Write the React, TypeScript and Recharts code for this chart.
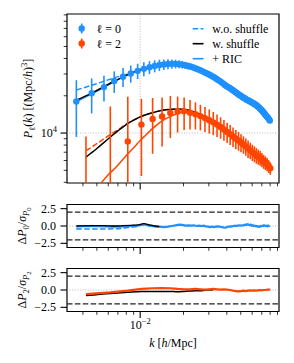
import React from 'react';
import {
  ComposedChart,
  Line,
  Scatter,
  XAxis,
  YAxis,
  ErrorBar,
  ReferenceLine,
  ReferenceArea,
  Legend,
} from 'recharts';

const FONT = '"Liberation Serif", "DejaVu Serif", serif';
const BLUE = '#1E90FF';
const RED = '#FF4500';
const GRID = '#aaaaaa';

// ---------- axes ----------
const X_MIN = 0.0031;
const X_MAX = 0.0922;
const Y_MIN = 3950;
const Y_MAX = 91500;
const R_MIN = -3.1;
const R_MAX = 3.1;
const X_TICKS = [0.004, 0.005, 0.006, 0.007, 0.008, 0.009, 0.01, 0.02, 0.03, 0.04, 0.05, 0.06, 0.07, 0.08, 0.09];
const Y_TICKS = [4000, 5000, 6000, 7000, 8000, 9000, 10000, 20000, 30000, 40000, 50000, 60000, 70000, 80000, 90000];
const R_TICKS = [-2.5, 0, 2.5];

// ---------- monopole (l = 0) measurements ----------
const kMono = [
  0.0036, 0.0046, 0.0056, 0.0066, 0.0076, 0.0086, 0.0096, 0.0106, 0.0116, 0.0126,
  0.0136, 0.0146, 0.0156, 0.0166, 0.0176, 0.0186, 0.0196, 0.0206, 0.0216, 0.0226,
  0.0236, 0.0246, 0.0256, 0.0266, 0.0276, 0.0286, 0.0296, 0.0306, 0.0316, 0.0326,
  0.0336, 0.0346, 0.0356, 0.0366, 0.0376, 0.0386, 0.0396, 0.0406, 0.0416, 0.0426,
  0.0436, 0.0446, 0.0456, 0.0466, 0.0476, 0.0486, 0.0496, 0.0506, 0.0516, 0.0526,
  0.0536, 0.0546, 0.0556, 0.0566, 0.0576, 0.0586, 0.0596, 0.0606, 0.0616, 0.0626,
  0.0636, 0.0646, 0.0656, 0.0666, 0.0676, 0.0686, 0.0696, 0.0706, 0.0716, 0.0726,
  0.0736, 0.0746, 0.0756, 0.0766, 0.0776, 0.0786, 0.0796,
];
const pMono = [
  18000, 21000, 23500, 26300, 28500, 30300, 31800, 33000, 34000, 34800,
  35400, 35800, 36100, 36200, 36200, 36000, 35700, 35300, 34800, 34300,
  33700, 33100, 32500, 31900, 31200, 30600, 30000, 29400, 28800, 28200,
  27600, 27000, 26400, 25800, 25200, 24600, 24000, 23600, 23200, 22800,
  22400, 22000, 21600, 21200, 20800, 20400, 20100, 19800, 19500, 19200,
  19000, 18700, 18500, 18300, 18100, 17900, 17700, 17500, 17300, 17100,
  16900, 16700, 16400, 16200, 15900, 15600, 15400, 15100, 14800, 14500,
  14200, 13900, 13700, 13400, 13200, 12900, 12600,
];
const eMono = [
  8700, 6600, 5500, 5200, 5000, 4800, 4500, 4300, 4100, 3900,
  3700, 3500, 3300, 3100, 2900, 2700, 2500, 2350, 2200, 2050,
  1950, 1850, 1750, 1650, 1550, 1500, 1400, 1350, 1300, 1250,
  1200, 1150, 1100, 1050, 1000, 960, 920, 880, 850, 820,
  790, 760, 730, 700, 680, 660, 640, 620, 600, 580,
  560, 545, 530, 515, 500, 485, 470, 460, 450, 440,
  430, 420, 410, 400, 390, 380, 370, 360, 350, 340,
  330, 320, 310, 300, 295, 290, 285,
];

// ---------- quadrupole (l = 2) measurements ----------
const kQuad = [
  0.0042, 0.0062, 0.0082, 0.0102, 0.0122, 0.0142, 0.0162, 0.0182, 0.0202, 0.0222,
  0.0242, 0.0262, 0.0282, 0.0302, 0.0322, 0.0342, 0.0362, 0.0382, 0.0402, 0.0422,
  0.0442, 0.0462, 0.0482, 0.0502, 0.0522, 0.0542, 0.0562, 0.0582, 0.0602, 0.0622,
  0.0642, 0.0662, 0.0682, 0.0702, 0.0722, 0.0742, 0.0762, 0.0782, 0.0802,
];
const pQuad = [
  1200, 2500, 8560, 11700, 13000, 13600, 14500, 14900, 15000, 14600,
  14200, 13700, 13200, 12700, 12200, 11700, 11200, 10700, 10200, 9800,
  9400, 9000, 8700, 8400, 8100, 7800, 7500, 7250, 7000, 6800,
  6600, 6450, 6300, 6100, 5900, 5750, 5600, 5400, 5200,
];
const eQuad = [
  8200, 13900, 11100, 7200, 6200, 5800, 5400, 4800, 4400, 3900,
  3500, 3200, 3000, 2800, 2600, 2400, 2200, 2050, 1900, 1800,
  1700, 1600, 1500, 1400, 1300, 1250, 1200, 1100, 1050, 1000,
  950, 900, 850, 800, 760, 720, 680, 640, 600,
];

// ---------- models, l = 0 ----------
const kModel0 = [
  0.0036, 0.0046, 0.0056, 0.0066, 0.0076, 0.0086, 0.0096, 0.0106, 0.0126, 0.0146,
  0.0166, 0.0186, 0.0216, 0.0256, 0.0306, 0.0356, 0.0406, 0.0456, 0.0506, 0.0556,
  0.0606, 0.0656, 0.0706, 0.0756, 0.0796,
];
const pShuffle0 = [
  18400, 21000, 23700, 26200, 28400, 30300, 31900, 33100, 34900, 35900,
  36300, 36100, 34900, 32600, 29500, 26500, 23700, 21700, 19900, 18600,
  17600, 16500, 15200, 13800, 12700,
];
const pNoShuffle0 = [
  22300, 24300, 26200, 27900, 29300, 30600, 31900, 33100, 34900, 35900,
  36300, 36100, 34900, 32600, 29500, 26500, 23700, 21700, 19900, 18600,
  17600, 16500, 15200, 13800, 12700,
];
const pRic0 = [
  17900, 20700, 23400, 26000, 28300, 30200, 31800, 33000, 34800, 35800,
  36200, 36000, 34800, 32500, 29400, 26400, 23600, 21600, 19800, 18500,
  17500, 16400, 15100, 13700, 12600,
];

// ---------- models, l = 2 ----------
const kModel2 = [
  0.0042, 0.005, 0.006, 0.007, 0.008, 0.009, 0.01, 0.0115, 0.013, 0.015,
  0.017, 0.019, 0.021, 0.024, 0.028, 0.032, 0.036, 0.04, 0.045, 0.05,
  0.055, 0.06, 0.065, 0.07, 0.075, 0.0802,
];
const pShuffle2 = [
  6400, 7500, 9000, 10400, 11700, 12700, 13500, 14300, 14900, 15400,
  15600, 15600, 15400, 14700, 13600, 12500, 11400, 10400, 9400, 8500,
  7800, 7100, 6600, 6150, 5750, 5250,
];
const pNoShuffle2 = [
  7200, 8200, 9500, 10600, 11800, 12700, 13500, 14300, 14900, 15400,
  15600, 15600, 15400, 14700, 13600, 12500, 11400, 10400, 9400, 8500,
  7800, 7100, 6600, 6150, 5750, 5250,
];
const kRic2 = [
  0.0042, 0.005, 0.0054, 0.006, 0.007, 0.008, 0.009, 0.01, 0.011, 0.012,
  0.013, 0.0145, 0.016, 0.018, 0.02, 0.022, 0.025, 0.03, 0.035, 0.04,
  0.045, 0.05, 0.055, 0.06, 0.065, 0.07, 0.075, 0.0802,
];
const pRic2 = [
  2300, 3500, 4000, 4600, 5500, 6600, 7600, 8700, 9700, 10700,
  11600, 12700, 13500, 14300, 14700, 14700, 14100, 12800, 11500, 10300,
  9300, 8500, 7700, 7050, 6550, 6150, 5750, 5250,
];

// ---------- residuals, l = 0 ----------
const dP0Ric = [
  -0.05, 0.0, -0.05, -0.1, -0.05, 0.0, 0.05, 0.25, 0.05, -0.05,
  -0.1, -0.15, -0.1, 0.0, 0.1, 0.2, 0.15, 0.05, 0.1, 0.05,
  0.1, 0.0, 0.05, 0.0, 0.05, -0.05, -0.1, -0.15, -0.1, -0.15,
  -0.1, -0.05, -0.1, -0.15, -0.2, -0.25, -0.2, -0.1, -0.05, -0.1,
  -0.05, 0.0, 0.05, 0.0, 0.05, 0.1, 0.05, 0.1, 0.05, 0.15,
  0.2, 0.15, 0.25, 0.2, 0.1, 0.2, 0.05, 0.1, 0.0, 0.05,
  -0.05, 0.0, -0.1, -0.05, -0.1, 0.0, -0.05, 0.05, 0.0, 0.1,
  0.05, 0.0, 0.05, -0.05, 0.05, 0.0, 0.05,
];
const kRes0Short = [0.0036, 0.0046, 0.0056, 0.0066, 0.0076, 0.0086, 0.0096, 0.0106, 0.0116, 0.0126, 0.0136];
const dP0NoShuffle = [-0.42, -0.44, -0.44, -0.4, -0.32, -0.18, -0.05, 0.2, 0.05, -0.05, -0.1];
const dP0Shuffle = [0.0, 0.05, 0.05, 0.0, 0.05, 0.1, 0.15, 0.35, 0.15, 0.0, -0.1];

// ---------- residuals, l = 2 ----------
const dP2Ric = [
  -0.6, -0.35, -0.1, 0.15, 0.25, 0.28, 0.25, 0.15, 0.1, 0.1,
  0.15, 0.1, 0.05, 0.1, 0.15, 0.1, 0.05, 0.1, 0.05, 0.0,
  -0.1, -0.15, -0.2, -0.15, -0.1, -0.15, -0.1, -0.05, -0.1, -0.05,
  -0.1, -0.05, 0.0, -0.05, 0.0, 0.0, 0.05, 0.05, 0.05,
];
const kRes2Short = [0.0042, 0.0062, 0.0082, 0.0102, 0.0122, 0.0142, 0.0162, 0.0182, 0.0202, 0.0222, 0.0242, 0.0262, 0.0282, 0.0302, 0.0322];
const dP2Shuffle = [-0.8, -0.5, -0.33, -0.22, -0.2, -0.2, -0.2, -0.25, -0.2, -0.15, -0.1, -0.1, -0.05, 0.0, 0.05];

// ---------- table builders ----------
const pts = (ks: number[], ps: number[]) => ks.map((k, i) => ({ k, p: ps[i] }));
const errPts = (ks: number[], ps: number[], es: number[]) =>
  ks.map((k, i) => {
    const p = ps[i];
    const e = es[i];
    const low = Math.min(e, p - Y_MIN);
    return { k, p, err: [low, e] };
  });

const monoTable = errPts(kMono, pMono, eMono);
const quadTable = errPts(kQuad, pQuad, eQuad);

// ---------- tick renderers ----------
function XTick(props: any) {
  const { x, y, payload, showLabel } = props;
  const v = payload.value;
  const major = Math.abs(v - 0.01) < 1e-9;
  return (
    <g>
      <line x1={x} x2={x} y1={y} y2={y + (major ? 6.5 : 3.3)} stroke="#000" strokeWidth={major ? 1.1 : 0.8} />
      {showLabel && major ? (
        <text x={x} y={y + 17.5} textAnchor="middle" fontFamily={FONT} fontSize={12} fill="#000">
          10
          <tspan dy={-5} fontSize={8.5}>
            −2
          </tspan>
        </text>
      ) : null}
    </g>
  );
}

function YLogTick(props: any) {
  const { x, y, payload } = props;
  const v = payload.value;
  const major = v === 10000;
  return (
    <g>
      <line x1={x - (major ? 6.5 : 3.3)} x2={x} y1={y} y2={y} stroke="#000" strokeWidth={major ? 1.1 : 0.8} />
      {major ? (
        <text x={x - 10} y={y + 4} textAnchor="end" fontFamily={FONT} fontSize={12} fill="#000">
          10
          <tspan dy={-5} fontSize={8.5}>
            4
          </tspan>
        </text>
      ) : null}
    </g>
  );
}

function YResTick(props: any) {
  const { x, y, payload } = props;
  const v: number = payload.value;
  const txt = (v < 0 ? '−' : '') + Math.abs(v).toFixed(1);
  return (
    <g>
      <line x1={x - 6.5} x2={x} y1={y} y2={y} stroke="#000" strokeWidth={1.1} />
      <text x={x - 11} y={y + 4} textAnchor="end" fontFamily={FONT} fontSize={12} fill="#000">
        {txt}
      </text>
    </g>
  );
}

// ---------- axis titles ----------
function MainYLabel(props: any) {
  const vb = props.viewBox || {};
  const cy = vb.y + vb.height / 2;
  const cx = 28;
  return (
    <text
      transform={`translate(${cx},${cy}) rotate(-90)`}
      textAnchor="middle"
      y={4}
      fontFamily={FONT}
      fontSize={12}
      fill="#000"
    >
      <tspan fontStyle="italic">P</tspan>
      <tspan dy={3} fontSize={8.5}>ℓ</tspan>
      <tspan dy={-3}>(</tspan>
      <tspan fontStyle="italic">k</tspan>
      <tspan>) [(Mpc/</tspan>
      <tspan fontStyle="italic">h</tspan>
      <tspan>)</tspan>
      <tspan dy={-5} fontSize={8.5}>3</tspan>
      <tspan dy={5}>]</tspan>
    </text>
  );
}

function ResYLabel(props: any) {
  const vb = props.viewBox || {};
  const cy = vb.y + vb.height / 2;
  const cx = 22;
  const d = props.ell;
  return (
    <text
      transform={`translate(${cx},${cy}) rotate(-90)`}
      textAnchor="middle"
      y={4}
      fontFamily={FONT}
      fontSize={12}
      fill="#000"
    >
      <tspan>Δ</tspan>
      <tspan fontStyle="italic">P</tspan>
      <tspan dy={3} fontSize={8.5}>{d}</tspan>
      <tspan dy={-3}>/</tspan>
      <tspan fontStyle="italic">σ</tspan>
      <tspan dy={3} fontSize={8.5} fontStyle="italic">P</tspan>
      <tspan dy={2} fontSize={6.5}>{d}</tspan>
    </text>
  );
}

function XTitle(props: any) {
  const vb = props.viewBox || {};
  const cx = vb.x + vb.width / 2;
  const y = vb.y + 35.5;
  return (
    <text x={cx} y={y} textAnchor="middle" fontFamily={FONT} fontSize={12} fill="#000">
      <tspan fontStyle="italic">k</tspan>
      <tspan> [</tspan>
      <tspan fontStyle="italic">h</tspan>
      <tspan>/Mpc]</tspan>
    </text>
  );
}

// ---------- legend ----------
function LegendBox() {
  const leftItems = [
    { c: BLUE, t: '0' },
    { c: RED, t: '2' },
  ];
  const rightItems = [
    { c: BLUE, dash: '5.5 2.4', t: 'w.o. shuffle' },
    { c: '#000', dash: undefined, t: 'w. shuffle' },
    { c: BLUE, dash: undefined, t: '+ RIC' },
  ];
  return (
    <svg width={294} height={190} style={{ position: 'absolute', left: 0, top: 0, overflow: 'visible' }}>
      {leftItems.map((it, i) => {
        const y = 28.5 + i * 15;
        return (
          <g key={'l' + i}>
            <line x1={81.7} x2={81.7} y1={y - 5} y2={y + 5} stroke={it.c} strokeWidth={1.6} />
            <circle cx={81.7} cy={y} r={3.2} fill={it.c} />
            <text x={96.5} y={y + 4} fontFamily={FONT} fontSize={12} fill="#000">
              ℓ = {it.t}
            </text>
          </g>
        );
      })}
      {rightItems.map((it, i) => {
        const y = 28.7 + i * 15;
        return (
          <g key={'r' + i}>
            <line x1={192.7} x2={203.5} y1={y} y2={y} stroke={it.c} strokeWidth={1.6} strokeDasharray={it.dash} />
            <text x={212.3} y={y + 4} fontFamily={FONT} fontSize={12} fill="#000">
              {it.t}
            </text>
          </g>
        );
      })}
    </svg>
  );
}

const dotShape = (color: string) => (props: any) => {
  const { cx, cy } = props;
  if (cx == null || cy == null || !isFinite(cx) || !isFinite(cy)) return <g />;
  return <circle cx={cx} cy={cy} r={3.2} fill={color} />;
};

function MainChart() {
  return (
    <ComposedChart width={294} height={190} margin={{ top: 14, right: 15, bottom: 0, left: 0 }}>
      <XAxis
        dataKey="k"
        type="number"
        scale="log"
        domain={[X_MIN, X_MAX]}
        allowDataOverflow
        ticks={X_TICKS}
        interval={0}
        height={7}
        tickSize={0}
        tickMargin={0}
        axisLine={false}
        tickLine={false}
        tick={(p: any) => <XTick {...p} showLabel={false} />}
      />
      <YAxis
        dataKey="p"
        type="number"
        scale="log"
        domain={[Y_MIN, Y_MAX]}
        allowDataOverflow
        ticks={Y_TICKS}
        interval={0}
        width={67}
        tickSize={0}
        tickMargin={0}
        axisLine={false}
        tickLine={false}
        tick={(p: any) => <YLogTick {...p} />}
        label={<MainYLabel />}
      />
      <ReferenceLine x={0.01} stroke={GRID} strokeDasharray="1 1.6" strokeWidth={0.8} />
      <ReferenceLine y={10000} stroke={GRID} strokeDasharray="1 1.6" strokeWidth={0.8} />

      <Line data={pts(kModel0, pRic0)} dataKey="p" type="monotone" stroke={BLUE} strokeWidth={1.5} dot={false} isAnimationActive={false} />
      <Line data={pts(kModel0, pNoShuffle0)} dataKey="p" type="monotone" stroke={BLUE} strokeWidth={1.5} strokeDasharray="5.5 2.4" dot={false} isAnimationActive={false} />
      <Line data={pts(kModel0, pShuffle0)} dataKey="p" type="monotone" stroke="#000" strokeWidth={1.5} dot={false} isAnimationActive={false} />

      <Line data={pts(kRic2, pRic2)} dataKey="p" type="monotone" stroke={RED} strokeWidth={1.5} dot={false} isAnimationActive={false} />
      <Line data={pts(kModel2, pNoShuffle2)} dataKey="p" type="monotone" stroke={RED} strokeWidth={1.5} strokeDasharray="5.5 2.4" dot={false} isAnimationActive={false} />
      <Line data={pts(kModel2, pShuffle2)} dataKey="p" type="monotone" stroke="#000" strokeWidth={1.5} dot={false} isAnimationActive={false} />

      <Scatter data={monoTable} dataKey="p" shape={dotShape(BLUE)} isAnimationActive={false}>
        <ErrorBar dataKey="err" direction="y" width={0} stroke={BLUE} strokeWidth={1.6} />
      </Scatter>
      <Scatter data={quadTable} dataKey="p" shape={dotShape(RED)} isAnimationActive={false}>
        <ErrorBar dataKey="err" direction="y" width={0} stroke={RED} strokeWidth={1.6} />
      </Scatter>

      <ReferenceArea x1={X_MIN} x2={X_MAX} y1={Y_MIN} y2={Y_MAX} fill="none" fillOpacity={0} stroke="#000" strokeWidth={1.2} ifOverflow="visible" />
      <Legend
        layout="vertical"
        align="center"
        verticalAlign="middle"
        content={() => <LegendBox />}
        wrapperStyle={{ left: 0, top: 0, width: 294, height: 190, pointerEvents: 'none' }}
      />
    </ComposedChart>
  );
}

function ResidualChart(props: {
  height: number;
  top: number;
  axisHeight: number;
  ell: string;
  showLabel: boolean;
  children?: React.ReactNode;
}) {
  const { height, top, axisHeight, ell, showLabel, children } = props;
  return (
    <ComposedChart width={294} height={height} margin={{ top, right: 15, bottom: 0, left: 0 }}>
      <XAxis
        dataKey="k"
        type="number"
        scale="log"
        domain={[X_MIN, X_MAX]}
        allowDataOverflow
        ticks={X_TICKS}
        interval={0}
        height={axisHeight}
        tickSize={0}
        tickMargin={0}
        axisLine={false}
        tickLine={false}
        tick={(p: any) => <XTick {...p} showLabel={showLabel} />}
        label={showLabel ? <XTitle /> : undefined}
      />
      <YAxis
        dataKey="p"
        type="number"
        domain={[R_MIN, R_MAX]}
        allowDataOverflow
        ticks={R_TICKS}
        interval={0}
        width={67}
        tickSize={0}
        tickMargin={0}
        axisLine={false}
        tickLine={false}
        tick={(p: any) => <YResTick {...p} />}
        label={<ResYLabel ell={ell} />}
      />
      <ReferenceLine y={0} stroke={GRID} strokeDasharray="1 1.6" strokeWidth={0.8} />
      <ReferenceLine y={2} stroke="#222" strokeDasharray="5.5 2.4" strokeWidth={1.3} />
      <ReferenceLine y={-2} stroke="#222" strokeDasharray="5.5 2.4" strokeWidth={1.3} />
      {children}
      <ReferenceArea x1={X_MIN} x2={X_MAX} y1={R_MIN} y2={R_MAX} fill="none" fillOpacity={0} stroke="#000" strokeWidth={1.2} ifOverflow="visible" />
    </ComposedChart>
  );
}

export default function App() {
  return (
    <div style={{ position: 'fixed', left: 0, top: 0, width: 294, height: 363, background: '#fff' }}>
      <div style={{ position: 'absolute', left: 0, top: 0 }}>
        <MainChart />
      </div>
      <div style={{ position: 'absolute', left: 0, top: 190 }}>
        <ResidualChart height={70} top={14.5} axisHeight={12.5} ell="0" showLabel={false}>
          <Line data={pts(kMono, dP0Ric)} dataKey="p" type="linear" stroke={BLUE} strokeWidth={2.2} dot={false} isAnimationActive={false} />
          <Line data={pts(kRes0Short, dP0NoShuffle)} dataKey="p" type="monotone" stroke={BLUE} strokeWidth={1.6} strokeDasharray="5.5 2.4" dot={false} isAnimationActive={false} />
          <Line data={pts(kRes0Short, dP0Shuffle)} dataKey="p" type="monotone" stroke="#000" strokeWidth={1.3} dot={false} isAnimationActive={false} />
        </ResidualChart>
      </div>
      <div style={{ position: 'absolute', left: 0, top: 260 }}>
        <ResidualChart height={103} top={8.5} axisHeight={51.5} ell="2" showLabel={true}>
          <Line data={pts(kRes2Short, dP2Shuffle)} dataKey="p" type="monotone" stroke="#000" strokeWidth={1.5} dot={false} isAnimationActive={false} />
          <Line data={pts(kQuad, dP2Ric)} dataKey="p" type="linear" stroke={RED} strokeWidth={2.2} dot={false} isAnimationActive={false} />
        </ResidualChart>
      </div>
    </div>
  );
}
